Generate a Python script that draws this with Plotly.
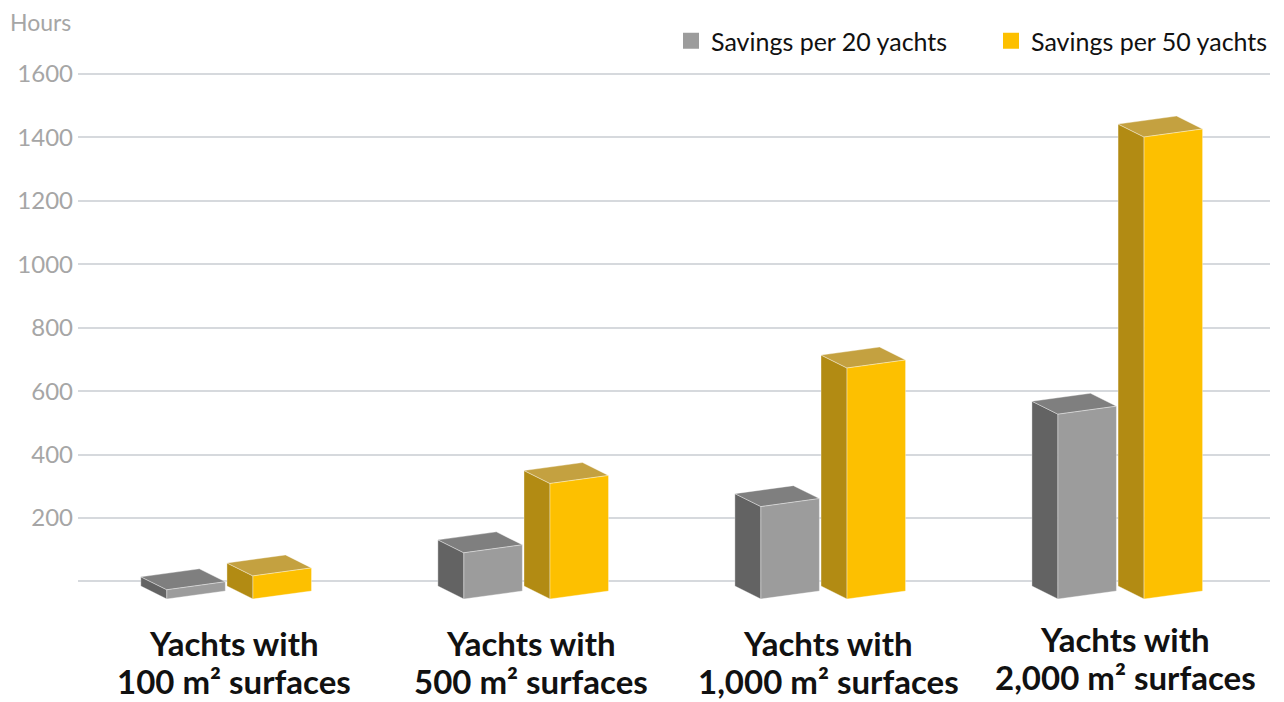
import plotly.graph_objects as go

# ---------------- data ----------------
cat_line1 = ["Yachts with", "Yachts with", "Yachts with", "Yachts with"]
cat_line2 = ["100 m² surfaces", "500 m² surfaces", "1,000 m² surfaces", "2,000 m² surfaces"]
series_names = ["Savings per 20 yachts", "Savings per 50 yachts"]
savings_20 = [30, 150, 300, 600]
savings_50 = [75, 375, 750, 1500]
y_tick_vals = [0, 200, 400, 600, 800, 1000, 1200, 1400, 1600]
y_tick_text = ["", "200", "400", "600", "800", "1000", "1200", "1400", "1600"]
axis_title = "Hours"

# ---------------- style ----------------
FONT = "Lato"
STYLES = [
    dict(front="#9c9c9c", side="#636363", top="#7f7f7f"),
    dict(front="#fdc000", side="#b28b13", top="#c4a140"),
]
BAR_OFFSET = [-0.226, 0.064]   # left edge of front face relative to category centre
BAR_W = 0.197                  # front face width (x units)
DEPTH_X = -0.0875              # depth offset (x units)
DEPTH_Y = 42                   # depth offset (y2 units)
SLANT = 26                     # rise of front face across its width (y2 units)
EDGE = dict(color="rgba(255,255,255,0.45)", width=0.8)

PLOT_L, PLOT_R, PLOT_T, PLOT_B = 78, 1270, 64, 610
PW, PH = PLOT_R - PLOT_L, PLOT_B - PLOT_T

def px_x(p):
    return (p - PLOT_L) / PW

def px_y(p):
    return (PLOT_B - p) / PH

fig = go.Figure()

def face(xs, ys, color):
    fig.add_trace(go.Scatter(
        x=xs + [xs[0]], y=ys + [ys[0]], mode="lines", fill="toself",
        fillcolor=color, line=EDGE, yaxis="y2", hoverinfo="skip",
        showlegend=False))

for i in range(len(cat_line2)):
    for s, values in enumerate([savings_20, savings_50]):
        v = values[i]
        st = STYLES[s]
        xl = i + BAR_OFFSET[s]
        xr = xl + BAR_W
        # side face (left)
        face([xl, xl, xl + DEPTH_X, xl + DEPTH_X],
             [0, v, v + DEPTH_Y, DEPTH_Y], st["side"])
        # top face
        face([xl, xr, xr + DEPTH_X, xl + DEPTH_X],
             [v, v + SLANT, v + SLANT + DEPTH_Y, v + DEPTH_Y], st["top"])
        # front face
        face([xl, xr, xr, xl],
             [0, SLANT, SLANT + v, v], st["front"])

# legend entries (one legend per series so each can be placed independently)
legend_ids = ["legend", "legend2"]
for s, name in enumerate(series_names):
    fig.add_trace(go.Scatter(
        x=[None], y=[None], mode="markers", name=name, legend=legend_ids[s],
        marker=dict(symbol="square", size=16, color=STYLES[s]["front"])))

# category labels
for i in range(len(cat_line2)):
    shift = 4 if i == 3 else 0
    fig.add_annotation(x=i, xref="x", y=px_y(643 - shift), yref="paper",
                       text=f"<b>{cat_line1[i]}</b>", showarrow=False,
                       xanchor="center", yanchor="middle",
                       font=dict(family=FONT, size=33, color="#111111"))
    fig.add_annotation(x=i, xref="x", y=px_y(681 - shift), yref="paper",
                       text=f"<b>{cat_line2[i]}</b>", showarrow=False,
                       xanchor="center", yanchor="middle",
                       font=dict(family=FONT, size=33, color="#111111"))

fig.add_annotation(x=px_x(8), xref="paper", y=px_y(22), yref="paper",
                   text=axis_title, showarrow=False, xanchor="left", yanchor="middle",
                   font=dict(family=FONT, size=23, color="#a6a6a6"))

legend_style = dict(orientation="h", xanchor="left", yanchor="middle",
                    font=dict(family=FONT, size=25, color="#111111"),
                    bgcolor="rgba(0,0,0,0)", borderwidth=0)

fig.update_layout(
    width=1284, height=702,
    margin=dict(l=PLOT_L, r=1284 - PLOT_R, t=PLOT_T, b=702 - PLOT_B, pad=0,
                autoexpand=False),
    paper_bgcolor="white", plot_bgcolor="white",
    font=dict(family=FONT),
    xaxis=dict(range=[-0.525, 3.488], showgrid=False, zeroline=False,
               showticklabels=False, showline=False, fixedrange=True),
    yaxis=dict(range=[-90.2, 1631.5], tickvals=y_tick_vals, ticktext=y_tick_text,
               showgrid=True, gridcolor="#d6d9dd", gridwidth=1.5, zeroline=False,
               showline=False, ticks="", ticklabelstandoff=4,
               tickfont=dict(family=FONT, size=24, color="#a6a6a6")),
    yaxis2=dict(range=[-35.7, 1737], overlaying="y", visible=False,
                showgrid=False, zeroline=False),
    legend=dict(x=px_x(671), y=px_y(41), **legend_style),
    legend2=dict(x=px_x(991), y=px_y(41), **legend_style),
    showlegend=True,
)

fig.write_html("out.html")
